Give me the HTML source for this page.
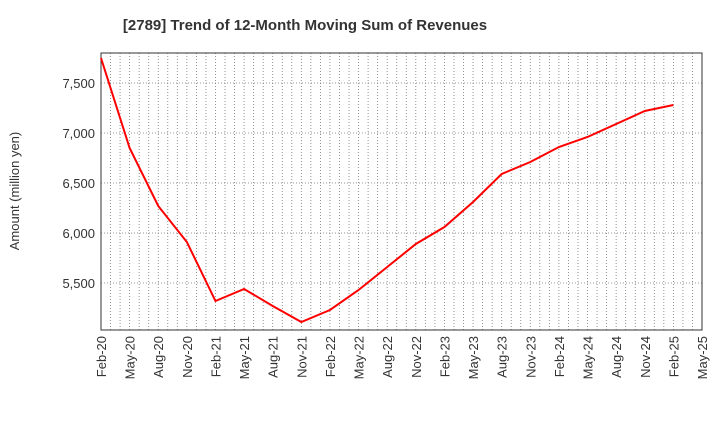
<!DOCTYPE html>
<html><head><meta charset="utf-8"><style>
body{margin:0;background:#fff;font-family:"Liberation Sans",sans-serif}
svg text{font-family:"Liberation Sans",sans-serif}
</style></head><body>
<svg id="chart" width="720" height="440" xmlns="http://www.w3.org/2000/svg">
<text x="305" y="30" text-anchor="middle" font-size="15" font-weight="bold" fill="#333">[2789]  Trend of 12-Month Moving Sum of Revenues</text>
<text transform="translate(19,191) rotate(-90)" text-anchor="middle" font-size="13" fill="#333">Amount (million yen)</text>
<g id="grid"></g><g id="axes"></g><g id="series"></g>
</svg>
<script>
const categories=["Feb-20","May-20","Aug-20","Nov-20","Feb-21","May-21","Aug-21","Nov-21","Feb-22","May-22","Aug-22","Nov-22","Feb-23","May-23","Aug-23","Nov-23","Feb-24","May-24","Aug-24","Nov-24","Feb-25","May-25"];
const revenues=[7750,6850,6270,5910,5320,5440,5270,5110,5230,5430,5660,5890,6060,6310,6590,6710,6860,6960,7090,7220,7280];
const yTicks=[5500,6000,6500,7000,7500];
const yTickLabels=["5,500","6,000","6,500","7,000","7,500"];
const L=101,R=702,T=53,B=330,yMin=5030,yMax=7800;
const NS="http://www.w3.org/2000/svg";
const xs=i=>L+(R-L)*i/(categories.length-1);
const xm=m=>L+(R-L)*m/((categories.length-1)*3);
const ys=v=>B-(v-yMin)/(yMax-yMin)*(B-T);
function mk(t,a,p){const e=document.createElementNS(NS,t);for(const k in a)e.setAttribute(k,a[k]);p.appendChild(e);return e;}
const grid=document.getElementById('grid'),axes=document.getElementById('axes'),series=document.getElementById('series');
for(let m=1;m<(categories.length-1)*3;m++){const l=mk('line',{x1:xm(m),x2:xm(m),y1:T,y2:B,stroke:'#777','stroke-width':0.8,'stroke-dasharray':'1,2'},grid);

}
yTicks.forEach((v,i)=>{const l=mk('line',{x1:L,x2:R,y1:ys(v),y2:ys(v),stroke:'#777','stroke-width':0.8,'stroke-dasharray':'1,2'},grid);


const t=mk('text',{x:L-6,y:ys(v)+5,'text-anchor':'end','font-size':13,fill:'#333'},axes);t.textContent=yTickLabels[i];

});
const fr=mk('rect',{x:L,y:T,width:R-L,height:B-T,fill:'none',stroke:'#333','stroke-width':1},axes);


categories.forEach((c,i)=>{const x=xs(i);const t=mk('text',{transform:`translate(${x+5},${B+6}) rotate(-90)`,'text-anchor':'end','font-size':13,fill:'#333'},axes);t.textContent=c;

});
const p=mk('polyline',{points:revenues.map((v,i)=>xs(i)+','+ys(v)).join(' '),fill:'none',stroke:'#f00','stroke-width':2},series);


</script>
</body></html>
